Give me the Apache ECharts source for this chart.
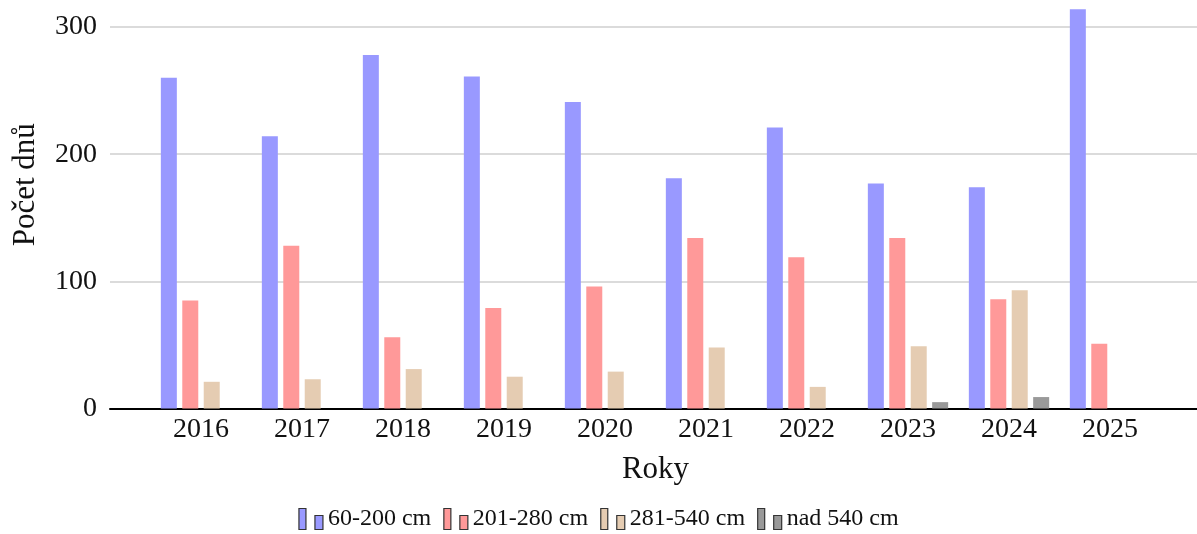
<!DOCTYPE html>
<html>
<head>
<meta charset="UTF-8">
<title>Počet dnů</title>
<script src="https://cdn.jsdelivr.net/npm/echarts@6/dist/echarts.min.js"></script>
<style>
  html, body { margin: 0; padding: 0; background: #fff; }
  #main { width: 1197px; height: 534px; }
</style>
</head>
<body>
<div id="main"></div>
<script>
var years = ['2016', '2017', '2018', '2019', '2020', '2021', '2022', '2023', '2024', '2025'];
var v60_200 = [260, 214, 278, 261, 241, 181, 221, 177, 174, 314];
var v201_280 = [85, 128, 56, 79, 96, 134, 119, 134, 86, 51];
var v281_540 = [21, 23, 31, 25, 29, 48, 17, 49, 93, 0];
var vNad540 = [0, 0, 0, 0, 0, 0, 0, 5, 9, 0];
var yTicks = [0, 100, 200, 300];

var chart = echarts.init(document.getElementById('main'));
var font = 'Liberation Serif';
// legend icon: tall bar + short bar like pgfplots ybar legend
var legendIcon = 'path://M0,0 L7,0 L7,21 L0,21 Z M16,7 L24,7 L24,21 L16,21 Z';

function bar(name, data, color) {
  return {
    name: name,
    type: 'bar',
    xAxisIndex: 1,
    yAxisIndex: 1,
    data: data,
    barWidth: 16,
    barGap: '34%',
    clip: false,
    itemStyle: { color: color }
  };
}

var option = {
  animation: false,
  textStyle: { fontFamily: font },
  grid: [
    { left: 110, right: 0, top: 27, bottom: 125.5 },
    { left: 150.5, right: 36.5, top: 27, bottom: 125.5 }
  ],
  legend: {
    top: 502,
    left: 'center',
    itemWidth: 24,
    itemHeight: 21,
    itemGap: 12,
    icon: legendIcon,
    itemStyle: { borderColor: '#333', borderWidth: 1.2 },
    textStyle: { fontFamily: font, fontSize: 24, color: '#111', padding: [4, 0, 0, 0] },
    data: ['60-200 cm', '201-280 cm', '281-540 cm', 'nad 540 cm']
  },
  xAxis: [
    {
      type: 'value', gridIndex: 0, min: 0, max: 1,
      axisLine: { show: true, onZero: false, lineStyle: { color: '#000', width: 2 } },
      axisTick: { show: false }, axisLabel: { show: false }, splitLine: { show: false }
    },
    {
      type: 'category', gridIndex: 1, data: years,
      name: 'Roky', nameLocation: 'middle', nameGap: 46,
      nameTextStyle: { fontFamily: font, fontSize: 31, color: '#111' },
      axisLine: { show: false }, axisTick: { show: false },
      axisLabel: { fontFamily: font, fontSize: 28, color: '#111', margin: 7 }
    }
  ],
  yAxis: [
    {
      type: 'value', gridIndex: 0, min: yTicks[0], max: yTicks[yTicks.length - 1], interval: 100,
      name: 'Počet dnů', nameLocation: 'middle', nameGap: 69, nameRotate: 90,
      nameTextStyle: { fontFamily: font, fontSize: 31, color: '#111', padding: [0, 0, 0, 66] },
      axisLine: { show: false }, axisTick: { show: false },
      axisLabel: { fontFamily: font, fontSize: 28, color: '#111', margin: 13 },
      splitLine: { lineStyle: { color: '#cfcfcf', width: 1.5 } }
    },
    {
      type: 'value', gridIndex: 1, min: 0, max: 300, interval: 100, show: false,
      splitLine: { show: false }
    }
  ],
  series: [
    bar('60-200 cm', v60_200, '#9999ff'),
    bar('201-280 cm', v201_280, '#ff9999'),
    bar('281-540 cm', v281_540, '#e5ccb2'),
    bar('nad 540 cm', vNad540, '#999999')
  ]
};
chart.setOption(option);
</script>
</body>
</html>
